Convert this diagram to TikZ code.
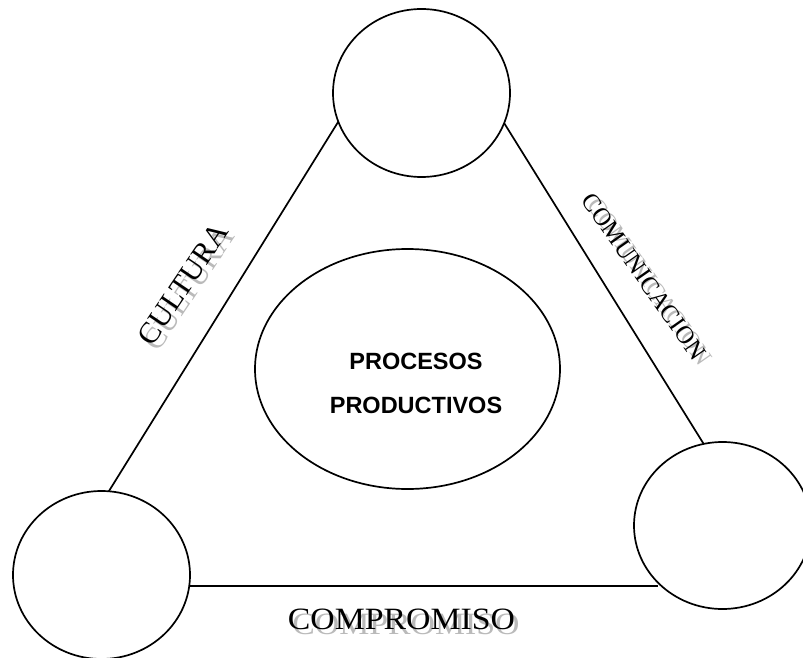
\documentclass[tikz,border=0pt]{standalone}
\usepackage{fontspec}
\setmainfont{Liberation Serif}
\newfontfamily\arialfont{Liberation Sans}
\usetikzlibrary{shapes.geometric}
\begin{document}
\begin{tikzpicture}[x=1pt,y=-1pt,
  bubble/.style={draw, ellipse, line width=1.7pt, inner sep=0pt, outer sep=0pt,
                 minimum width=177pt, minimum height=168pt},
  link/.style={line width=1.7pt},
  lbl/.style={inner sep=0pt, outer sep=0pt, text=black},
  shade/.style={inner sep=0pt, outer sep=0pt, text=black!27},
  bigfont/.style={font=\fontsize{30}{30}\selectfont},
  midfont/.style={font=\fontsize{25}{25}\selectfont},
  basefont/.style={font=\fontsize{31}{31}\selectfont},
]
\useasboundingbox (0,0) rectangle (803,658);

% circles
\node[bubble] (top) at (421.5,93) {};
\node[bubble] (bl) at (101.5,575) {};
\node[bubble, minimum height=167pt] (br) at (722.5,525.5) {};

% central ellipse
\node[bubble, minimum width=305pt, minimum height=240pt] (proc) at (407.5,369) {};
\node[inner sep=0pt, align=center, font=\arialfont\bfseries\fontsize{23.5}{44}\selectfont]
  (proctext) at (416,383) {PROCESOS\\PRODUCTIVOS};

% triangle sides
\draw[link] (top.199) -- (bl.85);
\draw[link] (top.-20.4) -- (br.103.8);
\coordinate (bstart) at (bl.-7.1);
\draw[link] (bstart) -- (bstart -| br.222.3);

% labels with shadow
\node[shade, bigfont, rotate=56] (cultS) at (189,289) {CULTURA};
\node[lbl, bigfont, rotate=56] (cult) at (183,284) {CULTURA};

\node[shade, midfont, rotate=-55] (comuS) at (650,281.5) {COMUNICACION};
\node[lbl, midfont, rotate=-55] (comu) at (644,276.5) {COMUNICACION};

\node[shade, basefont, xscale=1.09] (compS) at (406,624.5) {COMPROMISO};
\node[lbl, basefont, xscale=1.09] (comp) at (401.5,619.5) {COMPROMISO};
\end{tikzpicture}
\end{document}
